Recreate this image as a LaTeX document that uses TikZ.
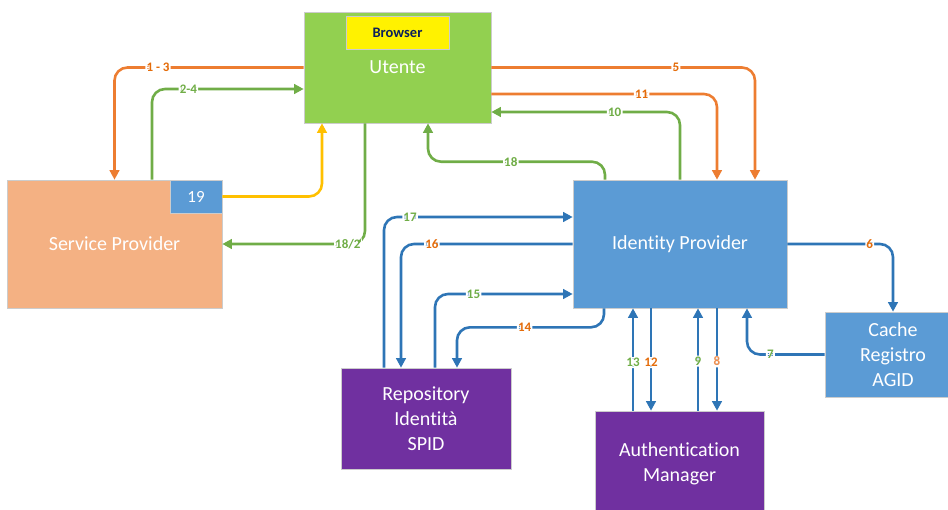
\documentclass[tikz,border=0pt]{standalone}
\usepackage{fontspec}
\setmainfont{Carlito}[Ligatures={NoCommon}]
\usetikzlibrary{arrows.meta}
\definecolor{utgreen}{HTML}{92D050}
\definecolor{spsalmon}{HTML}{F4B183}
\definecolor{idblue}{HTML}{5B9BD5}
\definecolor{boxpurple}{HTML}{7030A0}
\definecolor{navy}{HTML}{0B1F5C}
\definecolor{lineor}{HTML}{ED7D31}
\definecolor{linegr}{HTML}{70AD47}
\definecolor{linebl}{HTML}{2E75B6}
\definecolor{lineye}{HTML}{FFC000}
\definecolor{labor}{HTML}{E46C0A}
\definecolor{laborlight}{HTML}{F09050}

\begin{document}
\begin{tikzpicture}[x=1pt, y=-1pt,
        box/.style={draw=black!20, line width=0.6pt, text=white, align=center, inner sep=0pt,
            font=\fontsize{20}{25}\selectfont},
        link/.style={line width=2.6pt, rounded corners=13pt, -{Triangle[length=9.5pt,width=9.5pt]}},
        lbl/.style={fill=white, inner sep=1.2pt, font=\bfseries\fontsize{13}{14}\selectfont}]
        \useasboundingbox (0,0) rectangle (948,509);

        \node[box, fill=utgreen, minimum width=187pt, minimum height=111pt] (ut) at (397.5,67.5) {Utente};
        \node[box, fill=yellow, text=navy, minimum width=103pt, minimum height=33pt,
            font=\bfseries\fontsize{14.5}{16}\selectfont] (br) at (397.5,32.5) {Browser};
        \node[box, fill=spsalmon, minimum width=215pt, minimum height=128pt] (sp) at (114.5,244) {Service Provider};
        \node[box, fill=idblue, minimum width=52pt, minimum height=33pt,
            font=\fontsize{17}{20}\selectfont] (n19) at (196,196.5) {19};
        \node[box, fill=idblue, minimum width=214pt, minimum height=128pt] (idp) at (680,244) {Identity Provider};
        \node[box, fill=idblue, minimum width=136pt, minimum height=85pt] (cache) at (893,354.5) {Cache\\Registro\\AGID};
        \node[box, fill=boxpurple, minimum width=170pt, minimum height=101pt] (repo) at (426,418.5) {Repository\\Identità\\SPID};
        \node[box, fill=boxpurple, minimum width=169pt, minimum height=105pt] (am) at (679.5,463.5) {Authentication\\Manager};

        \draw[link, lineor] (ut.west) -| node[lbl, text=labor, pos=0.385] {1 - 3} (sp.north);
        \draw[link, linegr] (sp.north -| 152,0) |- node[lbl, text=linegr, pos=0.62] {2-4} (ut.west |- 0,89);
        \draw[link, lineye] (n19.east) -| (ut.south -| 322,0);
        \draw[link, linegr] (ut.south -| 365,0) |- node[lbl, text=linegr, pos=0.56] {18/2} (sp.east);
        \draw[link, linegr] (idp.north -| 605,0) -- ++(0,-18) -| node[lbl, text=linegr, pos=0.266] {18} (ut.south -| 428,0);
        \draw[link, linegr] (idp.north) |- node[lbl, text=linegr, pos=0.673] {10} (ut.east |- 0,112);
        \draw[link, lineor] (ut.east |- 0,94) -| node[lbl, text=labor, pos=0.333] {11} (idp.north -| 717,0);
        \draw[link, lineor] (ut.east) -| node[lbl, text=labor, pos=0.35] {5} (idp.north -| 755,0);

        \draw[link, linebl] (idp.east) -| node[lbl, text=labor, pos=0.39] {6} (cache.north);
        \draw[link, linebl] (cache.west) -| node[lbl, text=linegr, pos=0.35] {7} (idp.south -| 747,0);
        \draw[link, linebl] (idp.south -| 717,0) -- node[lbl, text=laborlight, pos=0.52] {8} (am.north -| 717,0);
        \draw[link, linebl] (am.north -| 698,0) -- node[lbl, text=linegr, pos=0.485] {9} (idp.south -| 698,0);
        \draw[link, linebl] (idp.south -| 651,0) -- node[lbl, text=labor, pos=0.53] {12} (am.north -| 651,0);
        \draw[link, linebl] (am.north -| 633,0) -- node[lbl, text=linegr, pos=0.47] {13} (idp.south -| 633,0);

        \draw[link, linebl] (idp.south -| 604,0) -- ++(0,19) -| node[lbl, text=labor, pos=0.27] {14} (repo.north -| 457,0);
        \draw[link, linebl] (repo.north -| 435,0) |- node[lbl, text=linegr, pos=0.64] {15} (idp.west |- 0,294);
        \draw[link, linebl] (idp.west) -| node[lbl, text=labor, pos=0.41] {16} (repo.north -| 401,0);
        \draw[link, linebl] (repo.north -| 384,0) |- node[lbl, text=linegr, pos=0.569] {17} (idp.west |- 0,217);
\end{tikzpicture}
\end{document}
